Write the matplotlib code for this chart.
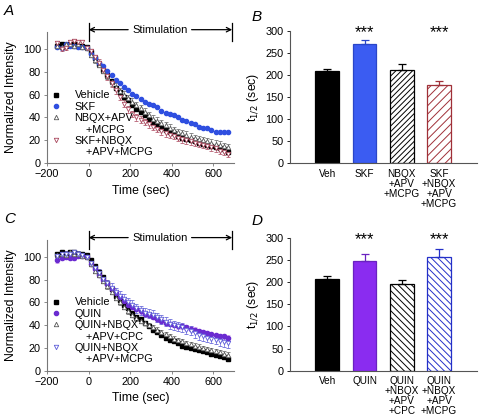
import numpy as np
import matplotlib
matplotlib.use('Agg')
import matplotlib.pyplot as plt
from matplotlib.lines import Line2D

plt.rcParams['font.family'] = ['Liberation Sans', 'DejaVu Sans']
plt.rcParams['hatch.linewidth'] = 0.7
plt.rcParams['axes.linewidth'] = 0.8

# time points (sec), 20 s apart
time = list(range(-150, 671, 20))

# ---- panel A
veh = [103, 104, 103, 104, 104, 103, 103, 102,
       97, 92, 87, 82, 77, 72, 66, 62, 58, 55, 51, 47, 45, 42, 39, 36, 34, 31, 29, 27,
       26, 24, 22, 21, 20, 19, 18, 17, 16, 15, 14, 13, 12, 10]
skf = [102, 101, 104, 103, 103, 102, 102, 101,
       96, 92, 88, 85, 81, 77, 73, 70, 67, 64, 61, 59, 56, 54, 52, 51, 49, 46, 44, 43,
       42, 40, 38, 37, 35, 34, 32, 31, 31, 29, 27, 27, 27, 27]
nbqx = [103, 102, 104, 104, 103, 104, 102, 101,
        95, 90, 86, 81, 76, 71, 67, 63, 60, 57, 54, 51, 48, 45, 42, 39, 37, 35, 33, 31,
        29, 27, 26, 25, 23, 22, 21, 20, 19, 18, 17, 16, 15, 14]
nbqx_err = [2, 2, 2, 2, 2, 2, 2, 2,
            2, 2, 2, 2, 2, 3, 3, 3, 3, 3, 3, 3, 3, 3, 3, 3, 3, 3, 3, 3,
            3, 3, 3, 3, 3, 3, 3, 3, 3, 3, 3, 3, 3, 3]
skf_nbqx = [105, 100, 101, 106, 107, 106, 106, 101,
            98, 93, 88, 82, 76, 70, 64, 58, 52, 47, 43, 40, 38, 36, 34, 32, 30, 28, 26, 25,
            24, 22, 21, 20, 19, 18, 17, 16, 15, 14, 13, 11, 10, 8]
skf_nbqx_err = [2, 2, 2, 2, 2, 2, 2, 2,
                2, 2, 3, 3, 3, 3, 3, 3, 3, 3, 3, 3, 3, 3, 3, 3, 3, 3, 3, 3,
                3, 3, 3, 3, 3, 3, 3, 3, 3, 3, 3, 3, 3, 3]

# ---- panel C
quin = [97, 99, 100, 99, 99, 101, 101, 100,
        94, 89, 84, 80, 76, 72, 68, 65, 61, 58, 56, 54, 52, 50, 49, 47, 45, 44, 42, 41,
        40, 39, 39, 38, 37, 36, 35, 34, 33, 32, 31, 30, 30, 29]
quin_err = [2, 2, 2, 2, 2, 2, 2, 2,
            2, 2, 2, 2, 2, 2, 2, 2, 2, 2, 2, 2, 2, 2, 2, 2, 2, 2, 2, 2,
            2, 2, 2, 2, 2, 2, 2, 2, 2, 2, 2, 2, 2, 2]
cpc = [102, 103, 102, 104, 103, 103, 101, 100,
       94, 88, 84, 79, 74, 69, 64, 60, 56, 52, 49, 46, 44, 42, 40, 38, 36, 34, 32, 30,
       28, 27, 26, 24, 23, 22, 21, 20, 19, 18, 17, 16, 15, 14]
cpc_err = [2, 2, 2, 2, 2, 2, 2, 2,
           2, 2, 2, 2, 2, 2, 2, 2, 2, 2, 2, 2, 2, 2, 2, 2, 2, 2, 2, 2,
           2, 2, 2, 2, 2, 2, 2, 2, 2, 2, 2, 2, 2, 2]
quin_mcpg = [101, 103, 103, 103, 104, 103, 102, 100,
             95, 90, 86, 81, 77, 73, 69, 66, 63, 60, 58, 55, 53, 51, 50, 49, 47, 45, 43, 41,
             40, 39, 38, 36, 35, 33, 31, 30, 29, 28, 27, 26, 25, 24]
quin_mcpg_err = [2, 2, 2, 2, 2, 2, 2, 2,
                 2, 3, 3, 3, 3, 4, 4, 4, 4, 4, 4, 4, 4, 4, 4, 4, 4, 4, 4, 4,
                 4, 4, 4, 4, 4, 4, 4, 4, 4, 4, 4, 4, 4, 4]

# ---- bar panels (t1/2, sec)
bar_labels_b = ['Veh', 'SKF', 'NBQX\n+APV\n+MCPG', 'SKF\n+NBQX\n+APV\n+MCPG']
t_half_b = [208, 270, 211, 178]
t_half_b_err = [6, 9, 14, 8]
stars_b = ['', '***', '', '***']

bar_labels_d = ['Veh', 'QUIN', 'QUIN\n+NBQX\n+APV\n+CPC', 'QUIN\n+NBQX\n+APV\n+MCPG']
t_half_d = [208, 248, 196, 257]
t_half_d_err = [7, 17, 10, 18]
stars_d = ['', '***', '', '***']

stim_start = 0
stim_end = 690

fig = plt.figure(figsize=(4.8, 4.15), dpi=100)
axA = fig.add_axes([0.098, 0.607, 0.39, 0.316])
axB = fig.add_axes([0.604, 0.607, 0.39, 0.319])
axC = fig.add_axes([0.098, 0.107, 0.39, 0.315])
axD = fig.add_axes([0.604, 0.107, 0.39, 0.319])

gray = '#555555'


def style_line_ax(ax):
    for s in ['top', 'right']:
        ax.spines[s].set_visible(False)
    for s in ['left', 'bottom']:
        ax.spines[s].set_color('#777777')
    ax.set_xlim(-200, 700)
    ax.set_ylim(0, 115)
    ax.set_xticks([-200, 0, 200, 400, 600])
    ax.set_yticks([0, 20, 40, 60, 80, 100])
    ax.tick_params(labelsize=7.8, length=2.5, width=0.6, color='#777777', pad=2)
    ax.set_xlabel('Time (sec)', size=8.8, labelpad=4)
    ax.set_ylabel('Normalized Intensity', size=8.8, labelpad=4)
    # stimulation marker
    y = 117
    ax.plot([stim_start, stim_start], [107, 123], color='black', lw=0.9, clip_on=False)
    ax.plot([stim_end, stim_end], [107, 123], color='black', lw=0.9, clip_on=False)
    ax.annotate('', xy=(stim_start, y), xytext=(190, y), annotation_clip=False,
                arrowprops=dict(arrowstyle='->', lw=0.9, color='black',
                                shrinkA=0, shrinkB=0, mutation_scale=8))
    ax.annotate('', xy=(stim_end, y), xytext=(495, y), annotation_clip=False,
                arrowprops=dict(arrowstyle='->', lw=0.9, color='black',
                                shrinkA=0, shrinkB=0, mutation_scale=8))
    ax.text(342, y, 'Stimulation', ha='center', va='center', size=8, clip_on=False)


def style_bar_ax(ax, labels):
    for s in ['top', 'right']:
        ax.spines[s].set_visible(False)
    for s in ['left', 'bottom']:
        ax.spines[s].set_color('#555555')
    ax.set_xlim(-1, 4.02)
    ax.set_ylim(0, 300)
    ax.set_yticks(range(0, 301, 50))
    ax.set_xticks(range(len(labels)))
    ax.set_xticklabels(labels, size=7.2, linespacing=1.0, va='top')
    ax.tick_params(axis='x', length=0, pad=4)
    ax.tick_params(axis='y', labelsize=7.8, length=2.5, width=0.6, pad=2)
    ax.set_ylabel('t$_{1/2}$ (sec)', size=8.8, labelpad=3)


# ---- A
axA.errorbar(time, nbqx, yerr=nbqx_err, fmt='^', ms=3.2, mfc='white', mec=gray, mew=0.6,
             ecolor='#777777', elinewidth=0.5, capsize=1.3, capthick=0.5)
axA.errorbar(time, skf_nbqx, yerr=skf_nbqx_err, fmt='v', ms=3.2, mfc='white', mec='#a8445a',
             mew=0.6, ecolor='#b76074', elinewidth=0.5, capsize=1.3, capthick=0.5)
axA.plot(time, veh, 's', ms=2.8, color='black')
axA.plot(time, skf, 'o', ms=3.0, color='#2f4fe0')
style_line_ax(axA)
hA = [Line2D([], [], ls='none', marker='s', ms=2.8, color='black'),
      Line2D([], [], ls='none', marker='o', ms=3.0, color='#2f4fe0'),
      Line2D([], [], ls='none', marker='^', ms=3.2, mfc='white', mec=gray, mew=0.6),
      Line2D([], [], ls='none'),
      Line2D([], [], ls='none', marker='v', ms=3.2, mfc='white', mec='#a8445a', mew=0.6),
      Line2D([], [], ls='none')]
lA = ['Vehicle', 'SKF', 'NBQX+APV', '    +MCPG', 'SKF+NBQX', '    +APV+MCPG']
axA.legend(hA, lA, loc='upper left', bbox_to_anchor=(0.025, 0.555), frameon=False,
           fontsize=7.8, handlelength=0.8, handletextpad=1.3, labelspacing=0.13,
           borderpad=0, borderaxespad=0)

# ---- C
axC.errorbar(time, quin, yerr=quin_err, fmt='o', ms=3.0, color='#6a2bd0',
             ecolor='#d9a6f2', elinewidth=0.6, capsize=1.3, capthick=0.6)
axC.errorbar(time, cpc, yerr=cpc_err, fmt='^', ms=3.2, mfc='white', mec=gray, mew=0.6,
             ecolor='#777777', elinewidth=0.5, capsize=1.3, capthick=0.5)
axC.errorbar(time, quin_mcpg, yerr=quin_mcpg_err, fmt='v', ms=3.2, mfc='white', mec='#5a5ad8',
             mew=0.6, ecolor='#6c6cdc', elinewidth=0.5, capsize=1.3, capthick=0.5)
axC.plot(time, veh, 's', ms=2.8, color='black')
style_line_ax(axC)
hC = [Line2D([], [], ls='none', marker='s', ms=2.8, color='black'),
      Line2D([], [], ls='none', marker='o', ms=3.0, color='#6a2bd0'),
      Line2D([], [], ls='none', marker='^', ms=3.2, mfc='white', mec=gray, mew=0.6),
      Line2D([], [], ls='none'),
      Line2D([], [], ls='none', marker='v', ms=3.2, mfc='white', mec='#5a5ad8', mew=0.6),
      Line2D([], [], ls='none')]
lC = ['Vehicle', 'QUIN', 'QUIN+NBQX', '    +APV+CPC', 'QUIN+NBQX', '    +APV+MCPG']
axC.legend(hC, lC, loc='upper left', bbox_to_anchor=(0.025, 0.56), frameon=False,
           fontsize=7.8, handlelength=0.8, handletextpad=1.3, labelspacing=0.13,
           borderpad=0, borderaxespad=0)

# ---- bars
def draw_bars(ax, vals, errs, faces, edges, hatches, stars, labels):
    x = np.arange(len(vals))
    for i in range(len(vals)):
        ax.bar(x[i], vals[i], width=0.64, color=faces[i], edgecolor=edges[i],
               hatch=hatches[i], linewidth=0.9, zorder=2)
        ax.errorbar(x[i], vals[i], yerr=[[0], [errs[i]]], fmt='none', ecolor=edges[i],
                    elinewidth=0.9, capsize=3, capthick=0.9, zorder=3)
        if stars[i]:
            ax.text(x[i], 296, stars[i], ha='center', va='center', size=12,
                    clip_on=False)
    style_bar_ax(ax, labels)


draw_bars(axB, t_half_b, t_half_b_err,
          ['black', '#3b5cf2', 'white', 'white'],
          ['black', '#2a46c8', 'black', '#a03038'],
          [None, None, '//////', '////'], stars_b, bar_labels_b)
draw_bars(axD, t_half_d, t_half_d_err,
          ['black', '#8a2cf0', 'white', 'white'],
          ['black', '#6a22c0', 'black', '#2430c8'],
          [None, None, '\\\\\\\\\\', '\\\\\\\\\\'], stars_d, bar_labels_d)

for lab, x, y in [('A', 0.008, 0.99), ('B', 0.525, 0.975), ('C', 0.008, 0.49), ('D', 0.525, 0.485)]:
    fig.text(x, y, lab, style='italic', size=11, va='top', ha='left')

fig.savefig('out.png', dpi=100)
